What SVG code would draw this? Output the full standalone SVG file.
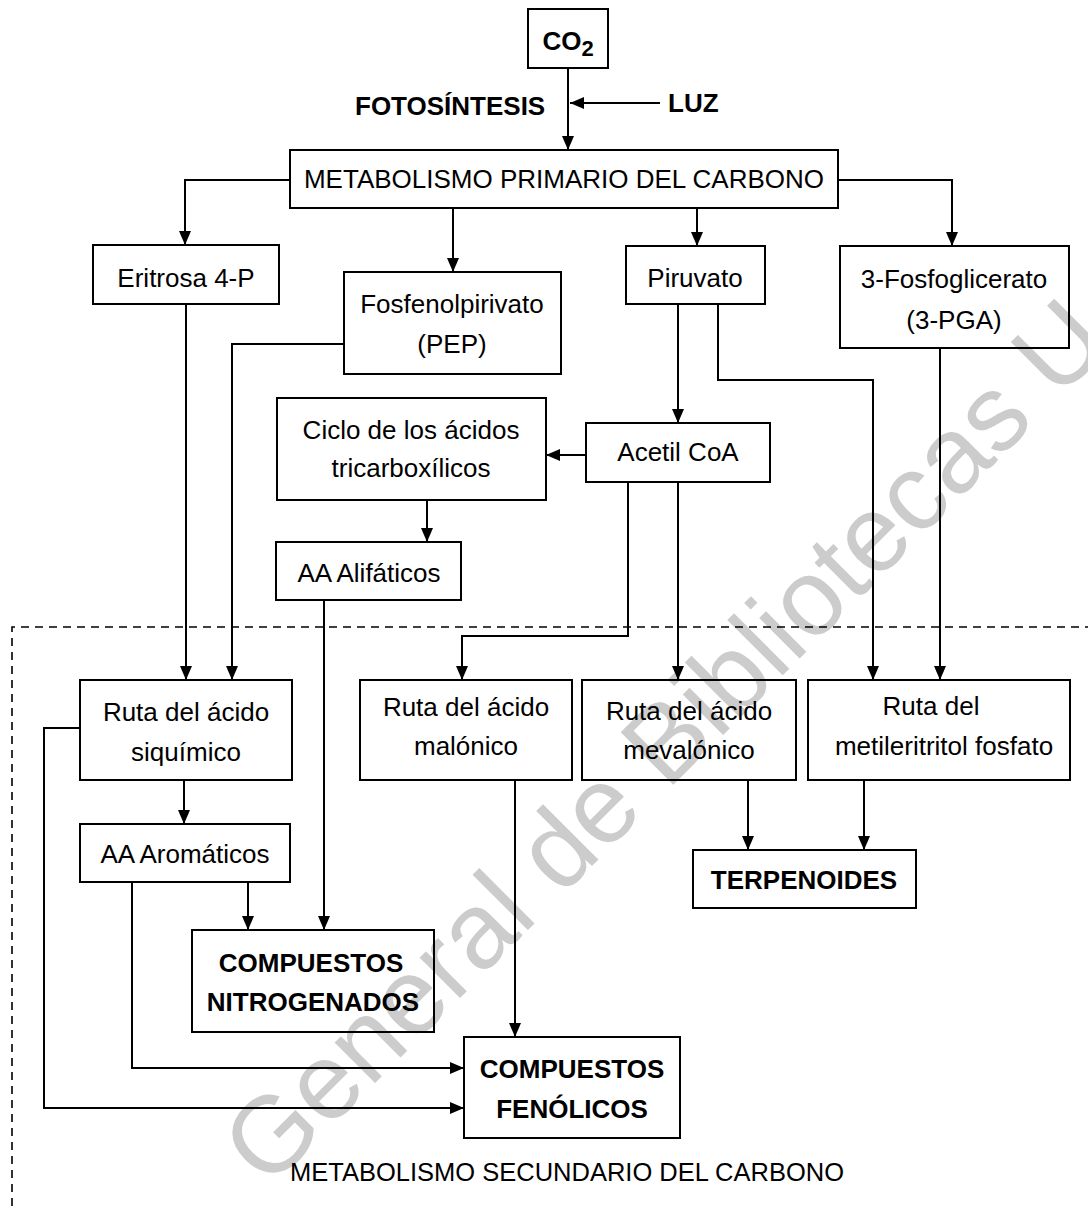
<svg xmlns="http://www.w3.org/2000/svg" width="1088" height="1206" viewBox="0 0 1088 1206">
<defs>
<style>
.bg{fill:#ffffff}
.wm{font-family:"Liberation Sans",Arial,sans-serif;font-size:108px;fill:#cccccc}
.box{fill:none;stroke:#000;stroke-width:2}
.t{font-family:"Liberation Sans",Arial,sans-serif;font-size:26px;text-anchor:middle;fill:#000}
.b{font-weight:bold}
.c{fill:none;stroke:#000;stroke-width:2}
.dash{fill:none;stroke:#000;stroke-width:1.6;stroke-dasharray:8 6}
</style>
<marker id="ah" markerUnits="userSpaceOnUse" markerWidth="14" markerHeight="14" refX="14" refY="7" orient="auto">
<path d="M0,1 L14,7 L0,13 z" fill="#000"/>
</marker>
</defs>
<rect class="bg" x="0" y="0" width="1088" height="1206"/>
<text class="wm" transform="translate(268,1190) rotate(-45)">General de Bibliotecas U</text>
<path class="dash" d="M12,1206 V627 H1088"/>
<g id="connectors">
<path class="c" marker-end="url(#ah)" d="M568,68 V150"/>
<path class="c" marker-end="url(#ah)" d="M660,103 H570"/>
<path class="c" marker-end="url(#ah)" d="M290,180 H185 V245"/>
<path class="c" marker-end="url(#ah)" d="M453,208 V272"/>
<path class="c" marker-end="url(#ah)" d="M697,208 V246"/>
<path class="c" marker-end="url(#ah)" d="M838,180 H952 V246"/>
<path class="c" marker-end="url(#ah)" d="M186,304 V680"/>
<path class="c" marker-end="url(#ah)" d="M344,344 H232 V680"/>
<path class="c" marker-end="url(#ah)" d="M678,304 V423"/>
<path class="c" marker-end="url(#ah)" d="M718,304 V380 H873 V680"/>
<path class="c" marker-end="url(#ah)" d="M940,348 V680"/>
<path class="c" marker-end="url(#ah)" d="M586,455 H546"/>
<path class="c" marker-end="url(#ah)" d="M427,500 V542"/>
<path class="c" marker-end="url(#ah)" d="M628,482 V636 H462 V680"/>
<path class="c" marker-end="url(#ah)" d="M678,482 V680"/>
<path class="c" marker-end="url(#ah)" d="M324,600 V930"/>
<path class="c" marker-end="url(#ah)" d="M184,780 V824"/>
<path class="c" marker-end="url(#ah)" d="M80,728 H44 V1108 H464"/>
<path class="c" marker-end="url(#ah)" d="M248,882 V930"/>
<path class="c" marker-end="url(#ah)" d="M132,882 V1068 H464"/>
<path class="c" marker-end="url(#ah)" d="M515,780 V1037"/>
<path class="c" marker-end="url(#ah)" d="M748,780 V850"/>
<path class="c" marker-end="url(#ah)" d="M864,780 V850"/>
</g>
<g id="co2"><rect class="box" x="528" y="9" width="80" height="59"/><text class="t b" x="568" y="50">CO<tspan font-size="22" dy="6">2</tspan></text></g>
<g id="fotosintesis"><text class="t b" x="355" y="115" style="text-anchor:start">FOTOSÍNTESIS</text></g>
<g id="luz"><text class="t b" x="668" y="112" style="text-anchor:start">LUZ</text></g>
<g id="metab-primario"><rect class="box" x="290" y="150" width="548" height="58"/><text class="t" x="564" y="188">METABOLISMO PRIMARIO DEL CARBONO</text></g>
<g id="eritrosa"><rect class="box" x="93" y="245" width="186" height="59"/><text class="t" x="186" y="287">Eritrosa 4-P</text></g>
<g id="pep"><rect class="box" x="344" y="272" width="217" height="102"/><text class="t" x="452" y="313">Fosfenolpirivato</text><text class="t" x="452" y="353">(PEP)</text></g>
<g id="piruvato"><rect class="box" x="626" y="246" width="139" height="58"/><text class="t" x="695" y="287">Piruvato</text></g>
<g id="pga"><rect class="box" x="840" y="246" width="229" height="102"/><text class="t" x="954" y="288">3-Fosfoglicerato</text><text class="t" x="954" y="329">(3-PGA)</text></g>
<g id="ciclo"><rect class="box" x="277" y="398" width="269" height="102"/><text class="t" x="411" y="439">Ciclo de los ácidos</text><text class="t" x="411" y="477">tricarboxílicos</text></g>
<g id="acetil"><rect class="box" x="586" y="423" width="184" height="59"/><text class="t" x="678" y="461">Acetil CoA</text></g>
<g id="aa-alifaticos"><rect class="box" x="276" y="542" width="185" height="58"/><text class="t" x="369" y="582">AA Alifáticos</text></g>
<g id="siquimico"><rect class="box" x="80" y="680" width="212" height="100"/><text class="t" x="186" y="721">Ruta del ácido</text><text class="t" x="186" y="761">siquímico</text></g>
<g id="malonico"><rect class="box" x="360" y="680" width="212" height="100"/><text class="t" x="466" y="716">Ruta del ácido</text><text class="t" x="466" y="755">malónico</text></g>
<g id="mevalonico"><rect class="box" x="582" y="680" width="214" height="100"/><text class="t" x="689" y="720">Ruta del ácido</text><text class="t" x="689" y="759">mevalónico</text></g>
<g id="metileritritol"><rect class="box" x="808" y="680" width="262" height="100"/><text class="t" x="931" y="715">Ruta del</text><text class="t" x="944" y="755">metileritritol fosfato</text></g>
<g id="aa-aromaticos"><rect class="box" x="80" y="824" width="210" height="58"/><text class="t" x="185" y="863">AA Aromáticos</text></g>
<g id="terpenoides"><rect class="box" x="693" y="850" width="223" height="58"/><text class="t b" x="804" y="889">TERPENOIDES</text></g>
<g id="nitrogenados"><rect class="box" x="192" y="930" width="242" height="102"/><text class="t b" x="311" y="972">COMPUESTOS</text><text class="t b" x="313" y="1011">NITROGENADOS</text></g>
<g id="fenolicos"><rect class="box" x="464" y="1037" width="216" height="101"/><text class="t b" x="572" y="1078">COMPUESTOS</text><text class="t b" x="572" y="1118">FENÓLICOS</text></g>
<g id="metab-secundario"><text class="t" x="567" y="1181" style="font-size:25.5px">METABOLISMO SECUNDARIO DEL CARBONO</text></g>
</svg>
